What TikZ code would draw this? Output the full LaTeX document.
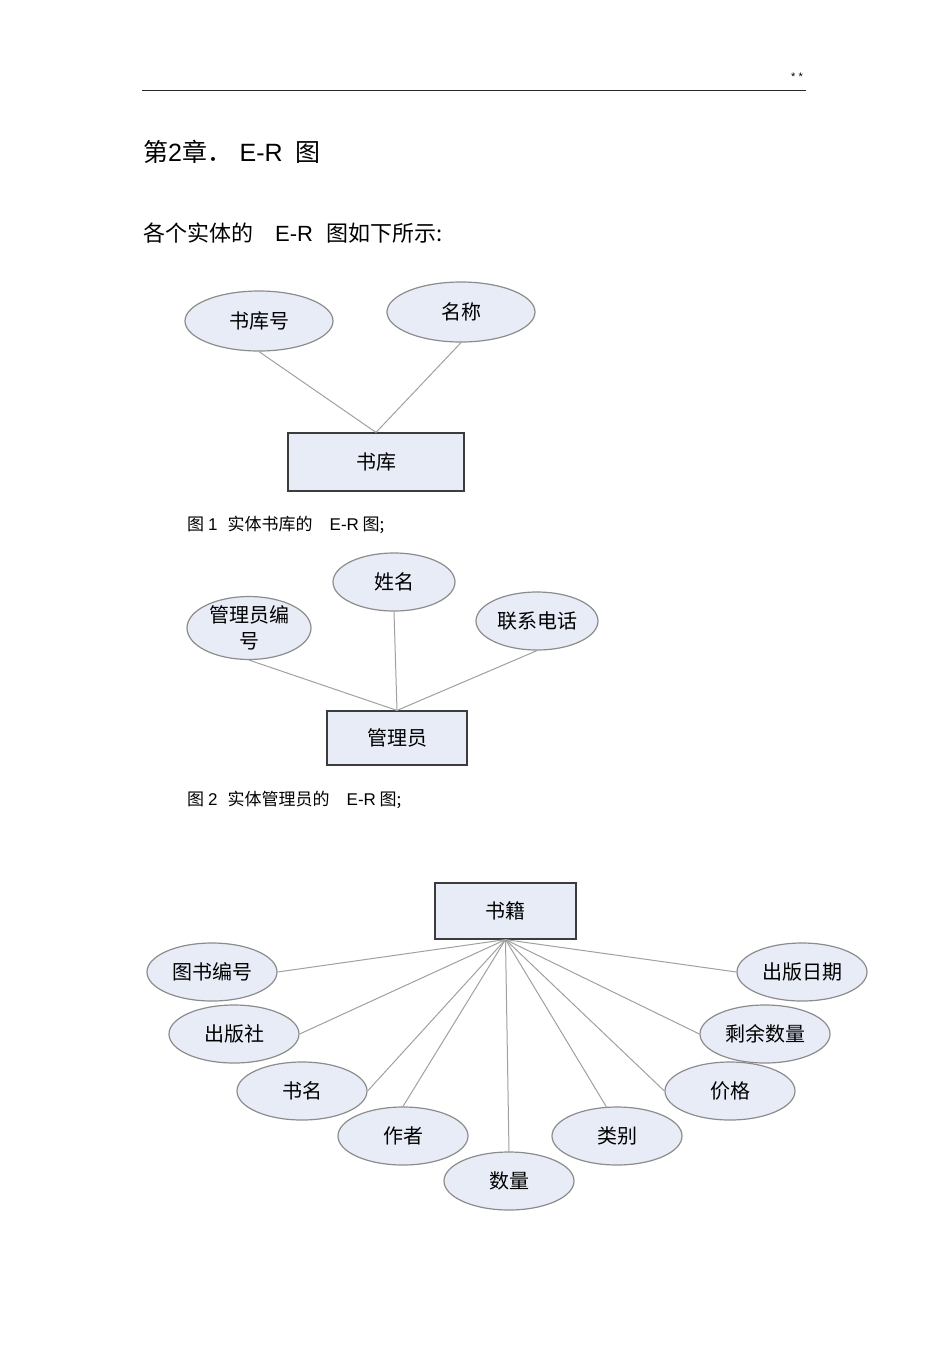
\documentclass[tikz,border=0pt]{standalone}
\usepackage{fontspec}
\setmainfont{Noto Sans CJK SC}
\newfontfamily\latin{Liberation Sans}
\usepackage{tikz}
\usetikzlibrary{shapes.geometric}
\usepackage{xcolor}
\definecolor{AttrFill}{RGB}{232, 236, 247}
\definecolor{AttrStroke}{RGB}{140, 140, 140}
\definecolor{EntityFill}{RGB}{232, 236, 247}
\definecolor{EntityStroke}{RGB}{60, 60, 60}
\definecolor{LinkColor}{RGB}{160, 160, 160}
\definecolor{RuleColor}{RGB}{40, 40, 40}
\tikzset{
    % Attribute (ellipse)
    attr/.style={
        ellipse,
        draw=AttrStroke,
        fill=AttrFill,
        inner sep=0pt,
        line width=1.2pt,
        align=center,
        font=\fontsize{20}{26}\selectfont
    },
    % Entity (rectangle)
    entity/.style={
        rectangle,
        draw=EntityStroke,
        fill=EntityFill,
        inner sep=0pt,
        line width=1.2pt,
        font=\fontsize{20}{26}\selectfont
    },
    % Connector between entity and attribute
    link/.style={
        draw=LinkColor,
        line width=1pt
    },
    % Figure caption
    figcaption/.style={
        anchor=west,
        inner sep=0pt,
        font=\fontsize{17}{20}\selectfont
    },
    % Page text
    heading/.style={
        anchor=west,
        inner sep=0pt,
        font=\fontsize{25}{30}\selectfont
    },
    bodytext/.style={
        anchor=west,
        inner sep=0pt,
        font=\fontsize{22}{26}\selectfont
    }
}
\begin{document}
\begin{tikzpicture}[x=1pt, y=-1pt]
    \useasboundingbox (0,0) rectangle (950,1345);

    % ==========================================
    % PAGE HEADER AND TEXT
    % ==========================================
    \coordinate (rulel) at (142,90);
    \coordinate (ruler) at (806,90);
    \draw[RuleColor, line width=1pt] (rulel) -- (ruler);
    \node[inner sep=0pt, font=\latin\fontsize{11}{11}\selectfont] (mark) at (797,77) {* *};

    \node[heading] (title) at (143,152) {第{\latin 2}章．\hspace{0.3em}{\latin E-R}\hspace{0.5em}图};
    \node[bodytext] (intro) at (143,233) {各个实体的\hspace{1em}{\latin E-R}\hspace{0.6em}图如下所示:};

    % ==========================================
    % FIGURE 1: 书库
    % ==========================================
    \node[attr, minimum width=148, minimum height=60] (kuhao) at (259,321) {书库号};
    \node[attr, minimum width=148, minimum height=60] (kuming) at (461,312) {名称};
    \node[entity, minimum width=176, minimum height=58] (ku) at (376,462) {书库};

    \draw[link] (kuhao.south) -- (ku.north);
    \draw[link] (kuming.south) -- (ku.north);

    \node[figcaption] (cap1) at (187,525) {图 {\latin 1}\hspace{0.6em}实体书库的\hspace{1em}{\latin E-R} 图;};

    % ==========================================
    % FIGURE 2: 管理员
    % ==========================================
    \node[attr, minimum width=124, minimum height=60] (glybh) at (249,628) {管理员编\\号};
    \node[attr, minimum width=122, minimum height=58] (xingming) at (394,582) {姓名};
    \node[attr, minimum width=122, minimum height=58] (dianhua) at (537,621) {联系电话};
    \node[entity, minimum width=140, minimum height=54] (gly) at (397,738) {管理员};

    \foreach \a in {glybh, xingming, dianhua} {
        \draw[link] (\a.south) -- (gly.north);
    }

    \node[figcaption] (cap2) at (187,800) {图 {\latin 2}\hspace{0.6em}实体管理员的\hspace{1em}{\latin E-R} 图;};

    % ==========================================
    % FIGURE 3: 书籍
    % ==========================================
    \node[entity, minimum width=141, minimum height=56] (shuji) at (505.5,911) {书籍};

    % Attributes & links (name/text/position/anchor)
    \foreach \n/\t/\p/\e in {
        tsbh/图书编号/{212,972}/east,
        cbs/出版社/{234,1034}/east,
        shuming/书名/{302,1091}/east,
        zuozhe/作者/{403,1136}/north,
        shuliang/数量/{509,1181}/north,
        leibie/类别/{617,1136}/110,
        jiage/价格/{730,1091}/west,
        shengyu/剩余数量/{765,1034}/west,
        cbrq/出版日期/{802,972}/west} {
        \node[attr, minimum width=130, minimum height=58] (\n) at (\p) {\t};
        \draw[link] (shuji.south) -- (\n.\e);
    }

\end{tikzpicture}
\end{document}
